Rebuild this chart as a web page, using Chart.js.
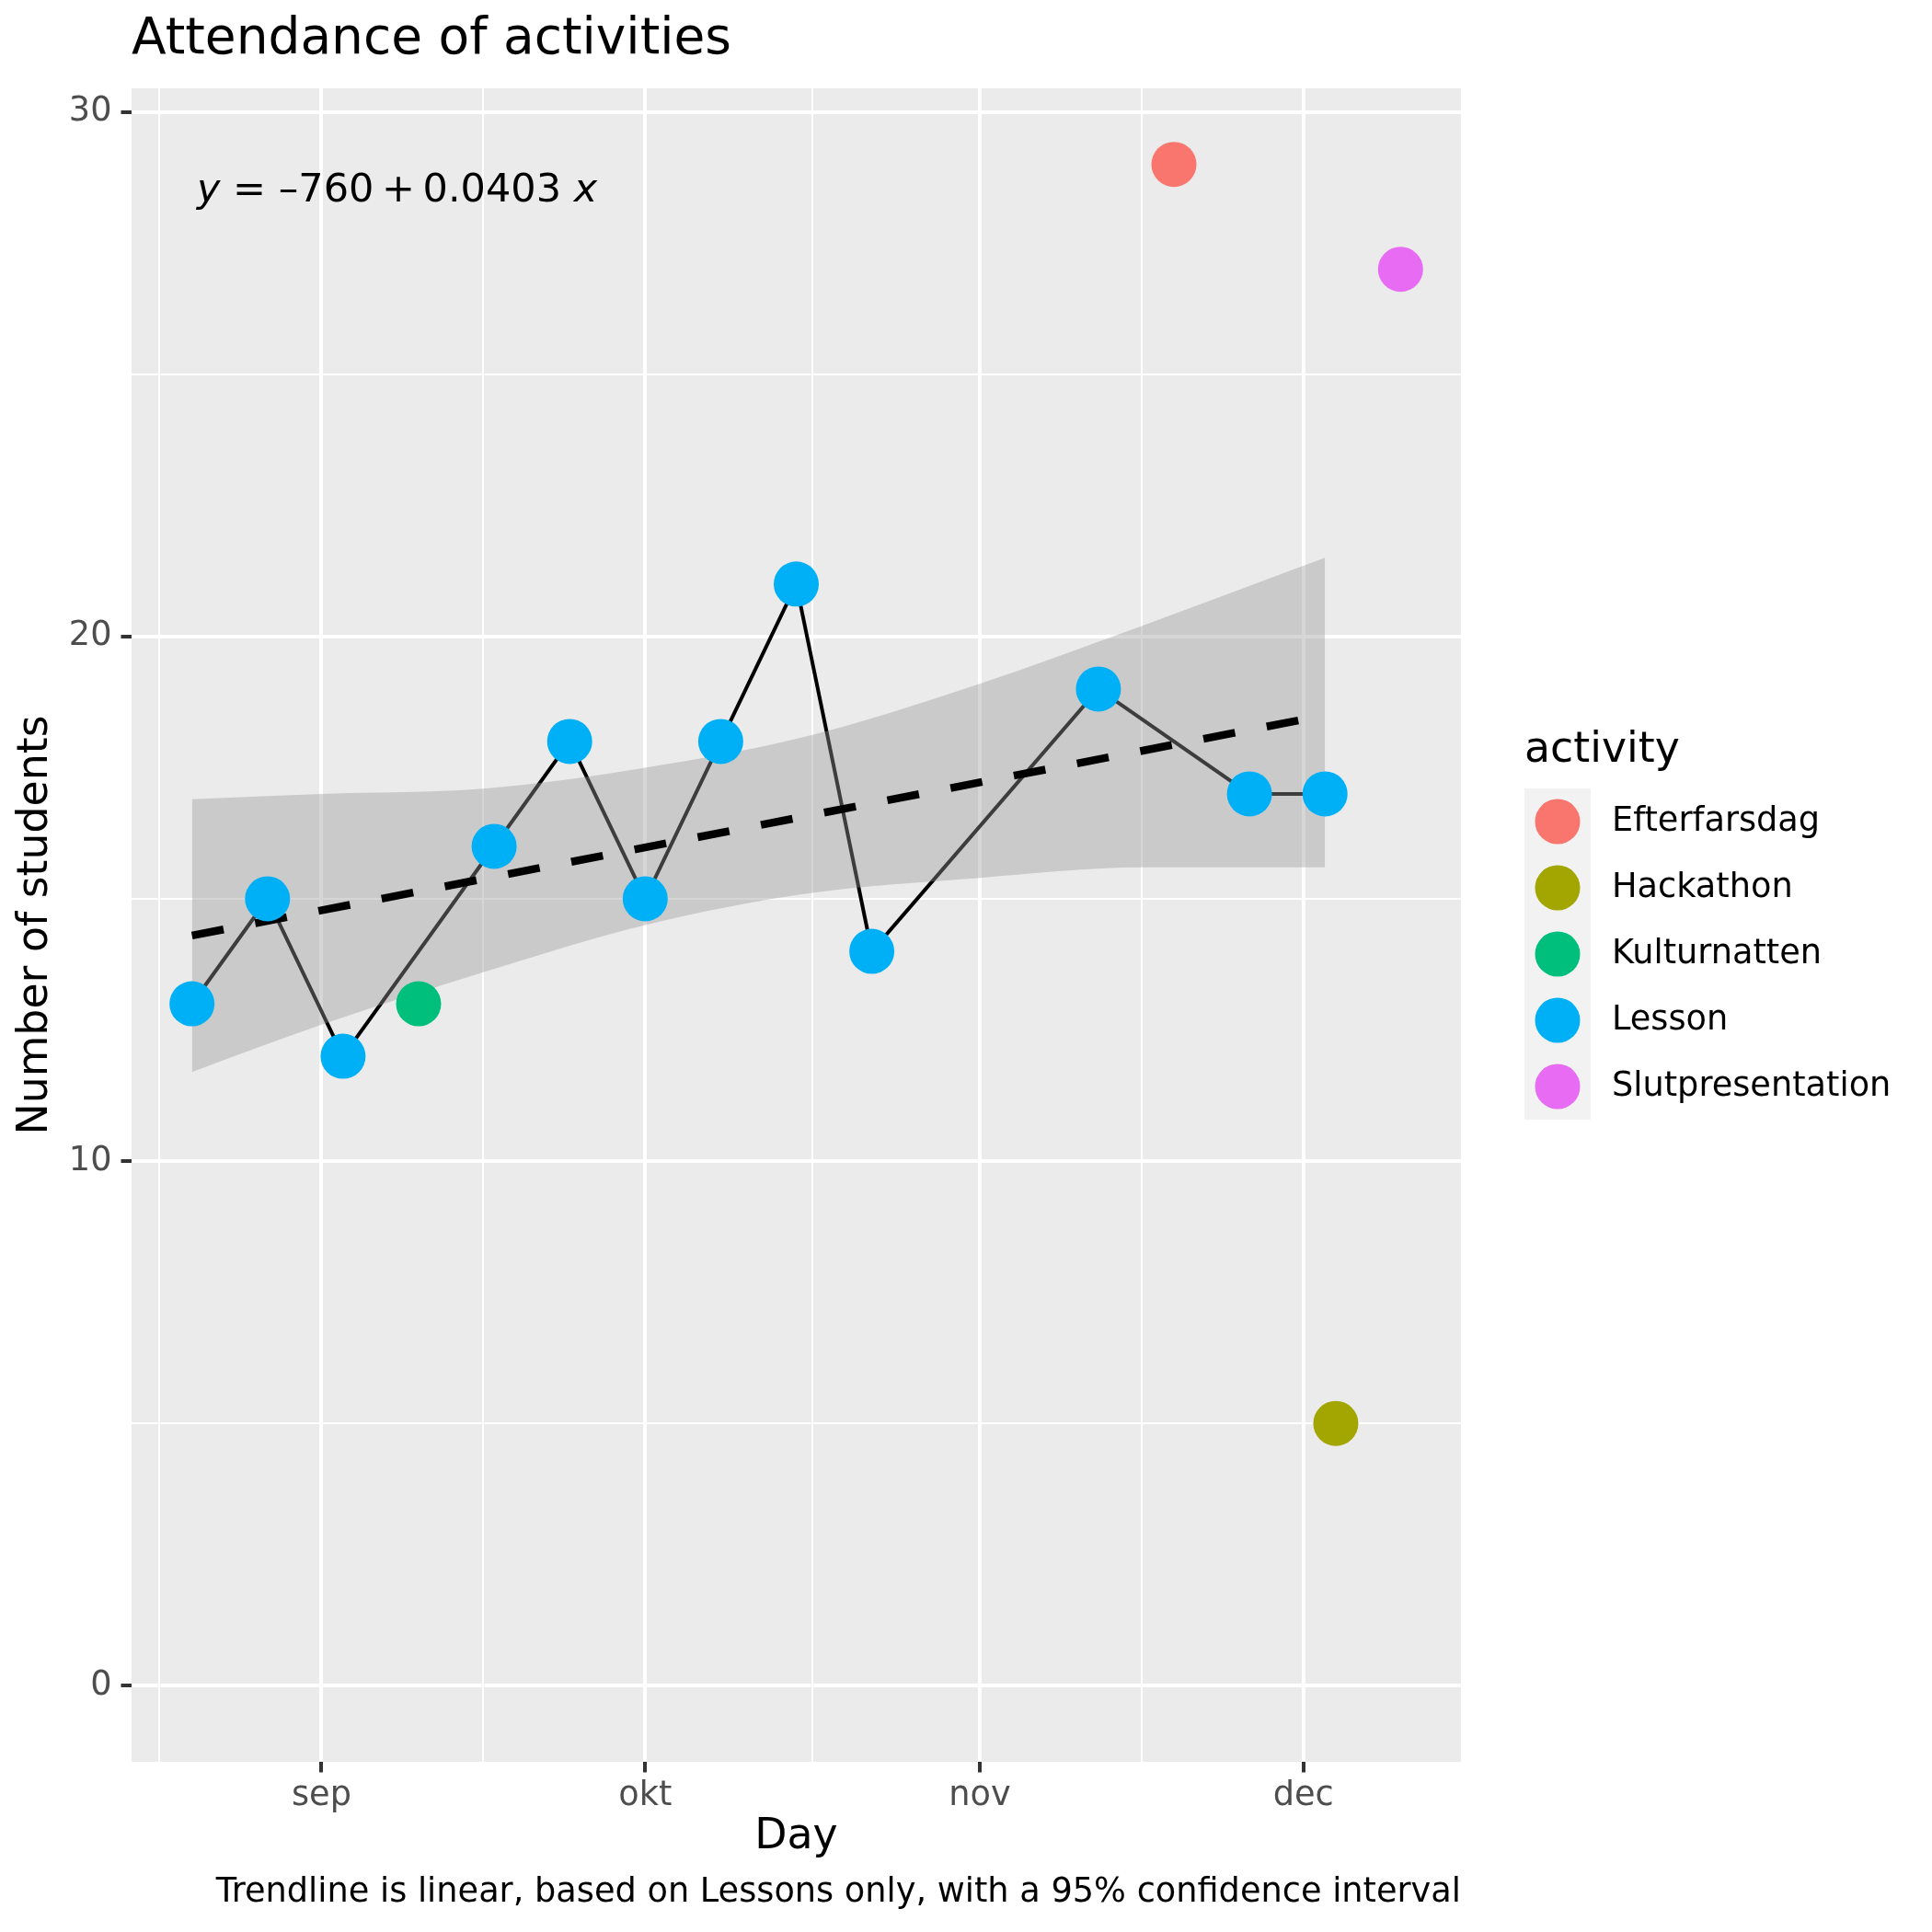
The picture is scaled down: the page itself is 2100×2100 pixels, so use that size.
<!DOCTYPE html>
<html>
<head>
<meta charset="utf-8">
<script src="https://cdn.jsdelivr.net/npm/chart.js@4.4.1/dist/chart.umd.min.js"></script>
<style>
  html, body { margin: 0; padding: 0; background: #fff; }
</style>
</head>
<body>
<canvas id="chart" width="2100" height="2100"></canvas>
<script>
// Activities and their colours (ggplot default hue palette)
const activities = ['Efterfarsdag', 'Hackathon', 'Kulturnatten', 'Lesson', 'Slutpresentation'];
const activityColors = ['#F8766D', '#A3A500', '#00BF7D', '#00B0F6', '#E76BF3'];

// One entry per event
const eventDates = ['2022-08-20', '2022-08-27', '2022-09-03', '2022-09-10', '2022-09-17', '2022-09-24',
    '2022-10-01', '2022-10-08', '2022-10-15', '2022-10-22', '2022-11-12', '2022-11-19',
    '2022-11-26', '2022-12-03', '2022-12-04', '2022-12-10'];
const eventActivity = ['Lesson', 'Lesson', 'Lesson', 'Kulturnatten', 'Lesson', 'Lesson',
    'Lesson', 'Lesson', 'Lesson', 'Lesson', 'Lesson', 'Efterfarsdag',
    'Lesson', 'Lesson', 'Hackathon', 'Slutpresentation'];
const students = [13, 15, 12, 13, 16, 18, 15, 18, 21, 14, 19, 29, 17, 17, 5, 27];

// Trendline (lessons only) and its 95% band
const trendDates = ['2022-08-20', '2022-12-03'];
const trendValues = [14.3, 18.5];
const bandDates = ['2022-08-20', '2022-09-01', '2022-09-16', '2022-10-01', '2022-10-16', '2022-11-01', '2022-11-16', '2022-12-03'];
const bandUpper = [16.9, 17.0, 17.1, 17.5, 18.1, 19.1, 20.2, 21.5];
const bandLower = [11.7, 12.6, 13.6, 14.5, 15.1, 15.4, 15.6, 15.6];

// Axis breaks
const monthDates = ['2022-09-01', '2022-10-01', '2022-11-01', '2022-12-01'];
const monthLabels = ['sep', 'okt', 'nov', 'dec'];
const minorDates = ['2022-08-17', '2022-09-16', '2022-10-16T12:00:00Z', '2022-11-16'];
const yMajor = [0, 10, 20, 30];

const origin = Date.parse('2022-09-01');
const day = s => (Date.parse(s) - origin) / 86400000;

const monthValues = monthDates.map(day);
const minorValues = minorDates.map(day);
const xTicks = monthValues.concat(minorValues).sort((a, b) => a - b);

const FONT = 'DejaVu Sans';
Chart.defaults.font.family = FONT;

// build datasets
const pointSets = activities.map((a, i) => ({
    label: a,
    data: eventDates.map((d, k) => ({ x: day(d), y: students[k], a: eventActivity[k] })).filter(p => p.a === a),
    backgroundColor: activityColors[i],
    borderWidth: 0,
    pointRadius: 24.5,
    pointHoverRadius: 24.5,
    order: 0
}));

const lessonPath = eventDates.map((d, k) => ({ x: day(d), y: students[k], a: eventActivity[k] })).filter(p => p.a === 'Lesson');

const datasets = [
    ...pointSets,
    {
        label: 'trend',
        data: trendDates.map((d, i) => ({ x: day(d), y: trendValues[i] })),
        showLine: true, pointRadius: 0, borderColor: '#000', borderWidth: 8.5,
        borderDash: [35, 35], borderCapStyle: 'butt', order: 1
    },
    {
        label: 'upper',
        data: bandDates.map((d, i) => ({ x: day(d), y: bandUpper[i] })),
        showLine: true, pointRadius: 0, borderWidth: 0, borderColor: 'rgba(0,0,0,0)',
        backgroundColor: 'rgba(153,153,153,0.4)', fill: '+1',
        cubicInterpolationMode: 'monotone', order: 2
    },
    {
        label: 'lower',
        data: bandDates.map((d, i) => ({ x: day(d), y: bandLower[i] })),
        showLine: true, pointRadius: 0, borderWidth: 0, borderColor: 'rgba(0,0,0,0)',
        fill: false, cubicInterpolationMode: 'monotone', order: 2
    },
    {
        label: 'path',
        data: lessonPath,
        showLine: true, pointRadius: 0, borderColor: '#000', borderWidth: 4, order: 3
    }
];

const decorations = {
    id: 'decorations',
    beforeDraw(chart) {
        const { ctx, chartArea: a } = chart;
        ctx.save();
        ctx.fillStyle = '#EBEBEB';
        ctx.fillRect(a.left, a.top, a.right - a.left, a.bottom - a.top);
        ctx.restore();
    },
    afterDraw(chart) {
        const { ctx, chartArea: a } = chart;
        ctx.save();
        // title
        ctx.fillStyle = '#000';
        ctx.textBaseline = 'middle';
        ctx.textAlign = 'left';
        ctx.font = '55px ' + FONT;
        ctx.fillText('Attendance of activities', a.left, 44);

        // caption
        ctx.textAlign = 'right';
        ctx.font = '36.7px ' + FONT;
        ctx.fillText('Trendline is linear, based on Lessons only, with a 95% confidence interval', a.right, 2057);

        // regression equation
        ctx.textAlign = 'left';
        const parts = [['y', true], [' = \u2013760\u2009+\u20090.0403 ', false], ['x', true]];
        let x = a.left + 71;
        parts.forEach(([t, it]) => {
            ctx.font = (it ? 'italic ' : '') + '43px ' + FONT;
            ctx.fillText(t, x, a.top + 112);
            x += ctx.measureText(t).width;
        });

        // legend
        const lx = 1657, ly = 857, key = 72;
        ctx.font = '45.8px ' + FONT;
        ctx.fillText('activity', lx, 816);
        ctx.fillStyle = '#F2F2F2';
        ctx.fillRect(lx, ly, key, key * activities.length);
        ctx.font = '36.7px ' + FONT;
        activities.forEach((name, i) => {
            const cy = ly + key / 2 + i * key;
            ctx.fillStyle = activityColors[i];
            ctx.beginPath();
            ctx.arc(lx + key / 2, cy, 24.5, 0, Math.PI * 2);
            ctx.fill();
            ctx.fillStyle = '#000';
            ctx.fillText(name, 1752, cy);
        });
        ctx.restore();
    }
};

const isMajorX = v => monthValues.some(m => Math.abs(m - v) < 1e-6);

new Chart(document.getElementById('chart'), {
    type: 'scatter',
    data: { datasets },
    plugins: [decorations],
    options: {
        responsive: false,
        animation: false,
        events: [],
        layout: { padding: { left: 0, top: 96, right: 512, bottom: 65 } },
        plugins: { legend: { display: false }, tooltip: { enabled: false } },
        scales: {
            x: {
                type: 'linear',
                min: -17.6, max: 105.6,
                afterBuildTicks: s => { s.ticks = xTicks.map(v => ({ value: v })); },
                afterFit: s => { s.height = 120; },
                border: { display: false },
                grid: {
                    color: '#FFFFFF',
                    lineWidth: c => (c.tick && isMajorX(c.tick.value)) ? 4 : 2,
                    tickColor: c => (c.tick && isMajorX(c.tick.value)) ? '#333333' : 'rgba(0,0,0,0)',
                    tickWidth: 4,
                    tickLength: 11.5
                },
                ticks: {
                    autoSkip: false, maxRotation: 0, padding: 4,
                    color: '#4D4D4D', font: { size: 36.7 },
                    callback: v => { const i = monthValues.findIndex(m => Math.abs(m - v) < 1e-6); return i >= 0 ? monthLabels[i] : ''; }
                },
                title: { display: true, text: 'Day', color: '#000', font: { size: 45.8, lineHeight: 1.2 }, padding: { top: 0, bottom: 10.5 } }
            },
            y: {
                type: 'linear',
                min: -1.45, max: 30.45,
                afterBuildTicks: s => { s.ticks = [0, 5, 10, 15, 20, 25, 30].map(v => ({ value: v })); },
                afterFit: s => { s.width = 143; },
                border: { display: false },
                grid: {
                    color: '#FFFFFF',
                    lineWidth: c => (c.tick && yMajor.includes(c.tick.value)) ? 4 : 2,
                    tickColor: c => (c.tick && yMajor.includes(c.tick.value)) ? '#333333' : 'rgba(0,0,0,0)',
                    tickWidth: 4,
                    tickLength: 11.5
                },
                ticks: {
                    autoSkip: false, padding: 10,
                    color: '#4D4D4D', font: { size: 36.7 },
                    callback: v => yMajor.includes(v) ? String(v) : ''
                },
                title: { display: true, text: 'Number of students', color: '#000', font: { size: 45.8, lineHeight: 1.2 }, padding: { top: 12, bottom: 0 } }
            }
        }
    }
});
</script>
</body>
</html>
